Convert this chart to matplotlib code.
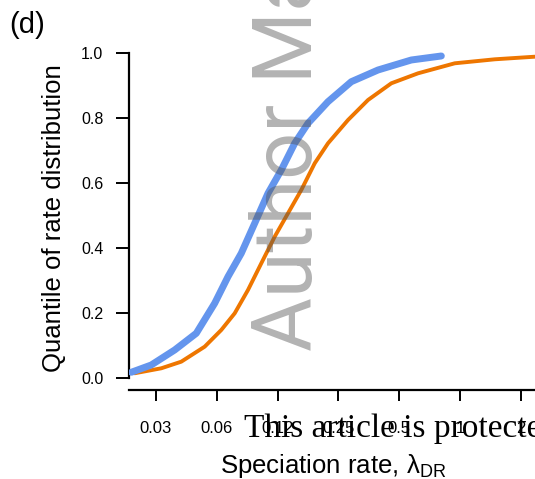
import matplotlib.pyplot as plt

plt.rcParams['font.family'] = ['Liberation Sans', 'DejaVu Sans']
plt.rcParams['mathtext.fontset'] = 'custom'
plt.rcParams['mathtext.rm'] = 'Liberation Sans'

# cumulative quantiles of speciation rate (lambda_DR) for the two groups
rate_blue = [0.02358, 0.02962, 0.03868, 0.04948, 0.06102, 0.07101, 0.08264,
             0.09628, 0.11204, 0.13038, 0.15191, 0.17677, 0.22204, 0.28960,
             0.39263, 0.5740, 0.8080]
quant_blue = [0.0175, 0.040, 0.0862, 0.1375, 0.2298, 0.3117, 0.3837,
              0.4760, 0.5683, 0.640, 0.7222, 0.7837, 0.8502, 0.9117,
              0.9477, 0.9785, 0.9908]

rate_orange = [0.02451, 0.03320, 0.04170, 0.05444, 0.06579, 0.07665, 0.08920,
               0.10380, 0.12093, 0.14073, 0.16377, 0.19081, 0.22204, 0.27891,
               0.35035, 0.45697, 0.61953, 0.94138, 1.4852, 2.3434]
quant_orange = [0.0145, 0.0298, 0.0502, 0.0963, 0.1477, 0.199, 0.2708,
                0.3529, 0.4348, 0.5068, 0.5785, 0.6606, 0.7222, 0.7938,
                0.8554, 0.9068, 0.9375, 0.9683, 0.9806, 0.9886]

xticks = [0.03125, 0.0625, 0.125, 0.25, 0.5, 1, 2]
xtick_labels = ['0.03', '0.06', '0.12', '0.25', '0.5', '1', '2']
yticks = [0.0, 0.2, 0.4, 0.6, 0.8, 1.0]

W, H = 535, 479
fig = plt.figure(figsize=(W / 100, H / 100), dpi=100)
ax = fig.add_axes([129 / W, 89 / H, 406 / W, 346.75 / H])

ax.plot(rate_orange, quant_orange, color='#EE7600', lw=2.8,
        solid_capstyle='round', zorder=2)
ax.plot(rate_blue, quant_blue, color='#6495ED', lw=5,
        solid_capstyle='round', zorder=3)

ax.set_xscale('log', base=2)
ax.set_xlim(0.02298, 2.35)
ax.set_ylim(-0.037, 1.03)

ax.set_xticks(xticks)
ax.set_xticklabels(xtick_labels)
ax.minorticks_off()
ax.set_yticks(yticks)
ax.set_yticklabels([f'{v:.1f}' for v in yticks])

for s in ('top', 'right'):
    ax.spines[s].set_visible(False)
ax.spines['left'].set_bounds(0, 1)
ax.spines['left'].set_linewidth(1.6)
ax.spines['bottom'].set_linewidth(1.6)
ax.tick_params(axis='y', direction='out', length=9.5, width=1.4,
               labelsize=11.5, pad=9)
ax.tick_params(axis='x', direction='out', length=8, width=1.4,
               labelsize=12, pad=14)

fig.text(61 / W, 1 - 218 / H, 'Quantile of rate distribution', rotation=90,
         rotation_mode='anchor', ha='center', va='baseline', fontsize=18.5)
fig.text(333 / W, 1 - 473 / H, r'Speciation rate, λ$_{\mathrm{DR}}$',
         ha='center', va='baseline', fontsize=18.5)
fig.text(9 / W, 1 - 33 / H, '(d)', ha='left', va='baseline', fontsize=21)

# manuscript watermark and footer
fig.text(312 / W, 1 - 351 / H, 'Author Manuscript', rotation=90,
         rotation_mode='anchor', ha='left', va='baseline',
         fontsize=59.5, family=['Roboto', 'DejaVu Sans'],
         color='#555555', alpha=0.45, zorder=10)
fig.text(244 / W, 1 - 437 / H,
         'This article is protected by copyright. All rights reserved',
         ha='left', va='baseline', fontsize=24,
         family=['Liberation Serif', 'DejaVu Serif'], color='black', zorder=10)

fig.savefig('out.png', dpi=100)
